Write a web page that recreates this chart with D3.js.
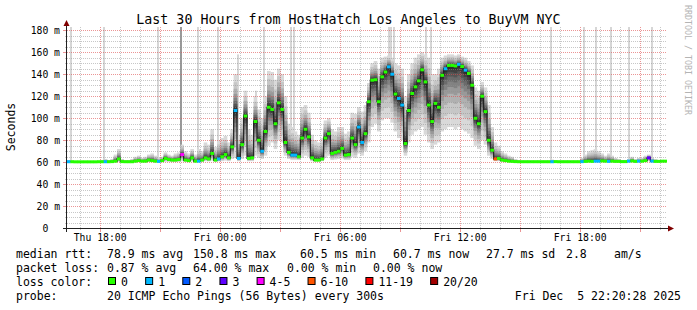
<!DOCTYPE html>
<html>
<head>
<meta charset="utf-8">
<script src="https://cdn.jsdelivr.net/npm/d3@7"></script>
<style>
  body { margin: 0; background: #fff; }
  text { font-family: "DejaVu Sans Mono", monospace; }
</style>
</head>
<body>
<div id="chart"></div>
<script>
// time range of the graph, one sample every 10 minutes
var start = new Date(2025, 11, 4, 16, 22);
var end = new Date(2025, 11, 5, 22, 22);
var step = 10;

// median rtt per sample (ms)
var median = [
  60.5,60.5,60.4,60.4,60.4,60.4,60.4,60.4,60.4,60.5,
  60.5,60.5,60.5,60.6,61,63,60.6,60.5,60.5,60.5,
  61,61.5,61,61,62,61.5,61,60.8,61.5,63.5,
  62.5,62,62,62.5,67,62,61.5,64,61,61,
  62,64,63,68,62,63,65,67,64,74,
  107,63.5,76,102,63.5,64,97,80,70,88,
  110,108,95,114,108,78,69,66.5,66.5,65,
  82,90,83,64,62,62,63,82,86,68,
  69,70,72.6,66.5,67,82,76,92,78,86,
  115,134.6,135,115,137.6,142,146.7,140,122,118,
  112,77,107,122.5,128.5,134,144,133,112,97,
  113.5,110,139,145,148,148,147.5,149,147,143.7,
  140.7,130,100,95,120,106,80,71,63,63.5,
  62,61.5,61,60.8,60.6,60.5,60.5,60.5,60.5,60.5,
  60.5,60.5,60.5,60.5,60.5,60.5,60.6,60.5,60.5,60.5,
  60.5,60.5,60.5,60.5,60.6,60.8,61,60.8,61,61,
  61.2,61,60.8,61,60.8,60.8,60.6,60.6,61,61.2,
  60.8,61,61,61.5,64,61,60.8,60.8,61,61
];

// fastest ping of the smoke per sample (ms)
var smokeLo = [
  60.2,60.2,60.2,60.2,60.2,60.2,60.2,60.2,60.2,60.2,
  60.2,60.2,60.2,60.2,60.3,60.5,60.2,60.2,60.2,60.2,
  60.2,60.3,60.2,60.2,60.3,60.3,60.2,60.2,60.3,60.5,
  60.4,60.3,60.3,60.4,61,60.5,60.4,60.8,60.3,60.3,
  60.4,61,60.8,61.5,60.5,60.7,61,61.5,61,63,
  64,61,63,66,61,61,66,64,63,66,
  75,78,72,80,78,66,63,62,62,62,
  64,66,65,61,60.5,60.5,61,64,66,62,
  62.5,63,63.5,62,62,65,64,68,66,70,
  78,92,95,88,98,100,100,96,88,82,
  80,66,78,85,88,90,92,85,78,72,
  76,78,88,90,92,92,90,92,90,88,
  86,82,75,72,80,76,66,63,61,61,
  60.5,60.3,60.3,60.2,60.2,60.2,60.2,60.2,60.2,60.2,
  60.2,60.2,60.2,60.2,60.2,60.2,60.2,60.2,60.2,60.2,
  60.2,60.2,60.2,60.2,60.2,60.2,60.3,60.2,60.3,60.3,
  60.3,60.2,60.2,60.2,60.2,60.2,60.2,60.2,60.2,60.2,
  60.2,60.2,60.2,60.4,61,60.2,60.2,60.2,60.2,60.2
];

// upper edge of the smoke per sample (ms)
var smokeHi = [
  62,61.5,61,61,61,61,61,61,61,61,
  62,63,62,63,67,72,63,62,62,63,
  65,66,64,65,67,68,66,64,65,69,
  67,66,68,69,76,70,68,72,67,72,
  70,78,76,90,74,80,82,84,78,90,
  140,85,100,125,90,85,120,108,100,120,
  143,142,135,145,140,120,95,92,88,85,
  110,112,105,85,80,78,82,98,100,90,
  88,92,92,86,88,105,104,110,106,112,
  132,150,152,145,155,156,157,155,150,148,
  145,120,140,150,155,158,160,158,155,140,
  140,145,155,157,158,158,157,158,156,155,
  152,148,128,125,133,128,112,92,78,75,
  70,68,66,65,63,62,61.5,61.5,61.5,61.5,
  61.5,61.5,61.5,61.5,61.5,62.5,61.5,61.5,61.5,61.5,
  61.5,61.5,61.5,61.5,64,67,70,71,72,70,
  68,66,68,66,64,63,62,62,63,65,
  63,64,64,66,67,64,63,62,62,62
];

// loss class per sample (index into lossLabels)
var loss = [
  1,0,0,0,0,0,0,0,0,0,
  0,1,0,0,0,0,0,0,0,0,
  0,0,0,0,0,0,0,1,0,0,
  0,0,0,0,4,0,0,0,0,1,
  0,0,0,0,0,1,0,0,0,0,
  1,1,0,0,0,0,0,0,1,0,
  0,0,0,0,0,0,0,1,1,0,
  0,0,0,0,0,0,0,0,0,0,
  0,0,0,0,0,0,0,1,1,0,
  0,0,0,0,0,0,1,1,0,1,
  1,0,0,0,0,0,0,0,0,0,
  0,0,0,1,0,0,0,1,0,1,
  0,0,0,0,0,0,0,0,5,0,
  0,0,0,0,0,0,0,0,0,0,
  0,0,0,0,0,1,0,0,0,0,
  0,0,0,0,1,0,0,0,1,1,
  0,0,1,0,0,0,0,0,1,0,
  0,1,0,0,3,1,0,0,0,0
];

// single slow pings above the smoke: [minutes after start, ms, count]
var spikes = [
  [10,200,1],[110,200,1],[270,200,1],[340,200,3],[390,200,1],[450,200,1],
  [510,158,1],[565,125,1],[590,200,1],[670,200,1],[680,200,1],[965,200,1],
  [970,200,1],[980,200,1],[1075,200,1],[1090,200,1],[1450,200,1],[1550,200,1],
  [1585,200,1],[1630,200,1],[1685,200,1],[1755,200,1]
];

var lossLabels = ["0", "1", "2", "3", "4-5", "6-10", "11-19", "20/20"];
var lossColors = ["#26ff00", "#00b8ff", "#0059ff", "#5e00ff", "#ff00ff", "#ff5500", "#ff0000", "#a10000"];

var rttStats = ["78.9 ms avg", "150.8 ms max", "60.5 ms min", "60.7 ms now", "27.7 ms sd", "2.8", "am/s"];
var lossStats = ["0.87 % avg", "64.00 % max", "0.00 % min", "0.00 % now"];
var probeText = "20 ICMP Echo Pings (56 Bytes) every 300s";
var stampText = "Fri Dec  5 22:20:28 2025";
var title = "Last 30 Hours from HostHatch Los Angeles to BuyVM NYC";

var svg = d3.select("#chart")
  .append("svg")
    .attr("width", 697)
    .attr("height", 310)
    .style("display", "block");

var x = d3.scaleTime().domain([start, end]).range([67, 667]);
var y = d3.scaleLinear().domain([0, 180]).range([228.3, 30.2]);
var plotTop = 27, plotBottom = 228.3;

function t(i) { return d3.timeMinute.offset(start, i * step); }
function snap(v) { return Math.round(v) + 0.5; }

svg.append("clipPath").attr("id", "plot")
  .append("rect")
    .attr("x", 67).attr("y", plotTop)
    .attr("width", 600).attr("height", plotBottom - plotTop);

var data = median.map(function (m, i) {
  return {i: i, med: m, lo: smokeLo[i], hi: smokeHi[i], loss: loss[i]};
});

// slow single pings
var plot = svg.append("g").attr("clip-path", "url(#plot)");
plot.append("g")
  .selectAll("rect")
  .data(spikes)
  .join("rect")
    .attr("x", d => Math.floor(x(d3.timeMinute.offset(start, d[0]))))
    .attr("width", 2)
    .attr("y", d => y(Math.min(d[1], 183)))
    .attr("height", d => y(median[Math.floor(d[0] / step)]) - y(Math.min(d[1], 183)))
    .attr("fill", d => d[2] > 1 ? "#9a9a9a" : "#d6d6d6");

// smoke, lighter at the edges and darker close to the median
var fracs = [1, 0.78, 0.6, 0.46, 0.35, 0.26, 0.18, 0.11, 0.06];
var shades = ["#d9d9d9", "#c6c6c6", "#b0b0b0", "#999999", "#828282", "#6b6b6b", "#555555", "#404040", "#2e2e2e"];
fracs.forEach(function (f, k) {
  plot.append("g")
    .selectAll("rect")
    .data(data)
    .join("rect")
      .attr("x", d => x(t(d.i)))
      .attr("width", d => x(t(d.i + 1)) - x(t(d.i)) + 0.3)
      .attr("y", d => y(d.med + (d.hi - d.med) * f))
      .attr("height", d => y(d.med - (d.med - d.lo) * f) - y(d.med + (d.hi - d.med) * f))
      .attr("fill", shades[k]);
});

// grid
var minorColor = "rgba(143,143,143,0.5)";
var majorColor = "rgba(222,79,79,0.6)";
var minorY = y.ticks(36).filter(v => v % 20 != 0);
var majorY = y.ticks(9);
var minorX = x.ticks(d3.timeHour.every(1)).filter(d => d.getHours() % 3 != 0);
var majorX = x.ticks(d3.timeHour.every(3));

var gg = svg.append("g")
  .attr("stroke", minorColor)
  .attr("stroke-dasharray", "1,1");
gg.selectAll("line.h")
  .data(minorY)
  .join("line").attr("class", "h")
    .attr("x1", 67).attr("x2", 667)
    .attr("y1", d => snap(y(d))).attr("y2", d => snap(y(d)));
gg.selectAll("line.v")
  .data(minorX)
  .join("line").attr("class", "v")
    .attr("x1", d => snap(x(d))).attr("x2", d => snap(x(d)))
    .attr("y1", plotTop).attr("y2", plotBottom);

var mg = svg.append("g")
  .attr("stroke", majorColor)
  .attr("stroke-dasharray", "1,1");
mg.selectAll("line.h")
  .data(majorY.filter(v => v > 0))
  .join("line").attr("class", "h")
    .attr("x1", 67).attr("x2", 667)
    .attr("y1", d => snap(y(d))).attr("y2", d => snap(y(d)));
mg.selectAll("line.v")
  .data(majorX)
  .join("line").attr("class", "v")
    .attr("x1", d => snap(x(d))).attr("x2", d => snap(x(d)))
    .attr("y1", plotTop).attr("y2", plotBottom);

// median line and loss colored marks
var medLine = d3.line()
  .x(d => x(t(d.i)))
  .y(d => y(d.med))
  .curve(d3.curveStepAfter);
var plot2 = svg.append("g").attr("clip-path", "url(#plot)");
plot2.append("path")
  .datum(data.concat([{i: data.length, med: median[median.length - 1]}]))
  .attr("d", medLine)
  .attr("fill", "none")
  .attr("stroke", "#202020")
  .attr("stroke-width", 1.2);
plot2.append("g")
  .selectAll("rect")
  .data(data)
  .join("rect")
    .attr("x", d => x(t(d.i)))
    .attr("width", d => x(t(d.i + 1)) - x(t(d.i)) + 0.3)
    .attr("y", d => y(d.med) - 1.5)
    .attr("height", 3)
    .attr("fill", d => lossColors[d.loss]);

// tick marks on the axes
svg.append("g").selectAll("line")
  .data(y.ticks(36))
  .join("line")
    .attr("x1", d => d % 20 == 0 ? 63 : 65).attr("x2", 67)
    .attr("y1", d => snap(y(d))).attr("y2", d => snap(y(d)))
    .attr("stroke", d => d % 20 == 0 ? majorColor : minorColor);
svg.append("g").selectAll("line")
  .data(x.ticks(d3.timeHour.every(1)))
  .join("line")
    .attr("x1", d => snap(x(d))).attr("x2", d => snap(x(d)))
    .attr("y1", 228).attr("y2", d => d.getHours() % 3 == 0 ? 232 : 230)
    .attr("stroke", d => d.getHours() % 3 == 0 ? majorColor : minorColor);

// axis lines with arrows
svg.append("line")
  .attr("x1", 63).attr("x2", 669).attr("y1", 228.5).attr("y2", 228.5)
  .attr("stroke", "#212121");
svg.append("line")
  .attr("x1", 66.5).attr("x2", 66.5).attr("y1", 232).attr("y2", 24)
  .attr("stroke", "#212121");
svg.append("path")
  .attr("d", "M668,225.5L674,228.5L668,231.5Z")
  .attr("fill", "#800000");
svg.append("path")
  .attr("d", "M63.5,26L66.5,20L69.5,26Z")
  .attr("fill", "#800000");

// axis labels
var xAxis = svg.append("g")
  .attr("transform", "translate(0,228.5)")
  .call(d3.axisBottom(x)
    .ticks(d3.timeHour.every(6))
    .tickFormat(d3.timeFormat("%a %H:%M"))
    .tickSize(0)
    .tickPadding(5.5));
xAxis.select(".domain").remove();
xAxis.selectAll("text")
  .attr("font-family", "DejaVu Sans Mono")
  .attr("font-size", "9.75px")
  .attr("fill", "#000");

var yAxis = svg.append("g")
  .attr("transform", "translate(67,0)")
  .call(d3.axisLeft(y)
    .ticks(9)
    .tickFormat(d => d == 0 ? "0  " : d + " m")
    .tickSize(0)
    .tickPadding(7));
yAxis.select(".domain").remove();
yAxis.selectAll("text")
  .attr("xml:space", "preserve")
  .style("white-space", "pre")
  .attr("font-family", "DejaVu Sans Mono")
  .attr("font-size", "9.75px")
  .attr("fill", "#000");

// titles
svg.append("text")
  .attr("x", 348.5).attr("y", 24)
  .attr("text-anchor", "middle")
  .style("font-size", "13.3px")
  .text(title);

svg.append("text")
  .attr("transform", "translate(15,127) rotate(-90)")
  .attr("text-anchor", "middle")
  .style("font-size", "11.5px")
  .text("Seconds");

svg.append("text")
  .attr("transform", "translate(685,5) rotate(90)")
  .style("font-size", "8.3px")
  .attr("fill", "#b4b4b4")
  .text("RRDTOOL / TOBI OETIKER");

// legend
var legend = svg.append("g").style("font-size", "11.5px").attr("fill", "#000");
var rows = [258, 272, 286, 300];

legend.append("text").attr("x", 16).attr("y", rows[0]).text("median rtt:");
var rttX = [107, 193, 300, 393, 486, 566, 614];
rttStats.forEach(function (s, k) {
  legend.append("text").attr("x", rttX[k]).attr("y", rows[0]).text(s);
});

legend.append("text").attr("x", 16).attr("y", rows[1]).text("packet loss:");
var lossX = [107, 193, 287, 373];
lossStats.forEach(function (s, k) {
  legend.append("text").attr("x", lossX[k]).attr("y", rows[1]).text(s);
});

legend.append("text").attr("x", 16).attr("y", rows[2]).text("loss color:");
var bx = 108;
lossLabels.forEach(function (s, k) {
  legend.append("rect")
    .attr("x", bx + 0.5).attr("y", rows[2] - 8.5)
    .attr("width", 7).attr("height", 7)
    .attr("fill", lossColors[k])
    .attr("stroke", "#000");
  legend.append("text").attr("x", bx + 13).attr("y", rows[2]).text(s);
  bx = bx + 13 + (s.length + 2.5) * 6.9;
});

legend.append("text").attr("x", 16).attr("y", rows[3]).text("probe:");
legend.append("text").attr("x", 107).attr("y", rows[3]).text(probeText);
legend.append("text")
  .attr("x", 681).attr("y", rows[3])
  .attr("text-anchor", "end")
  .attr("xml:space", "preserve")
  .style("white-space", "pre")
  .text(stampText);
</script>
</body>
</html>
